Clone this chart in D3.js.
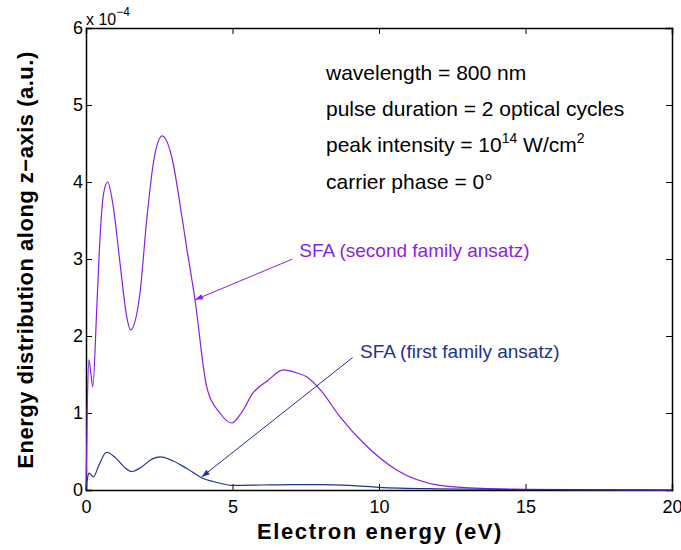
<!DOCTYPE html>
<html>
<head>
<meta charset="utf-8">
<script src="https://cdn.jsdelivr.net/npm/d3@7"></script>
<style>
  body { margin: 0; background: #fff; }
  svg text { font-family: "Liberation Sans", Arial, Helvetica, sans-serif; }
</style>
</head>
<body>
<svg id="chart"></svg>
<script>
// values in units of 1e-4
const secondEnergy = [0, 0.05, 0.1, 0.17, 0.23, 0.37, 0.48, 0.6, 0.74, 0.93, 1.16, 1.39, 1.52, 1.84, 2.07, 2.3, 2.6, 2.97, 3.2, 3.43, 3.72, 4.12, 4.57, 4.97, 5.3, 5.7, 6.2, 6.73, 7.2, 7.53, 8.0, 8.67, 9.47, 10.6, 12.08, 13.5, 15, 17.5, 20];
const secondValues = [0, 1.2, 1.69, 1.5, 1.34, 2.38, 3.29, 3.85, 4.0, 3.68, 2.95, 2.25, 2.08, 2.55, 3.5, 4.25, 4.6, 4.25, 3.73, 3.16, 2.47, 1.34, 1.0, 0.87, 1.0, 1.26, 1.42, 1.56, 1.52, 1.47, 1.3, 0.95, 0.61, 0.26, 0.06, 0.02, 0.01, 0.003, 0];

const firstEnergy = [0, 0.05, 0.1, 0.25, 0.45, 0.7, 1.0, 1.3, 1.56, 1.9, 2.2, 2.53, 2.9, 3.44, 4.0, 4.34, 5.0, 6.0, 7.0, 8.0, 9.0, 10, 12, 15, 20];
const firstValues = [0, 0.15, 0.22, 0.17, 0.33, 0.49, 0.42, 0.3, 0.24, 0.3, 0.39, 0.43, 0.39, 0.28, 0.15, 0.11, 0.06, 0.065, 0.07, 0.07, 0.06, 0.035, 0.015, 0.005, 0];

const xTicks = [0, 5, 10, 15, 20];
const yTicks = [0, 1, 2, 3, 4, 5, 6];
const infoLines = ["wavelength = 800 nm", "pulse duration = 2 optical cycles", "peak intensity = 10|14| W/cm|2", "carrier phase = 0°"];

const width = 681, height = 550;
const margin = {top: 28, right: 9, bottom: 60, left: 86};
const w = width - margin.left - margin.right;
const h = height - margin.top - margin.bottom;

const purple = "#8a1ee6";
const navy = "#1f3391";

const svg = d3.select("#chart")
    .attr("width", width)
    .attr("height", height);

const g = svg.append("g")
    .attr("transform", "translate(" + margin.left + "," + margin.top + ")");

const x = d3.scaleLinear().domain([0, 20]).range([0, w]);
const y = d3.scaleLinear().domain([0, 6]).range([h, 0]);

// axes, ticks pointing inward (matlab box)
const xAxis = g.append("g")
    .attr("transform", "translate(0," + h + ")")
    .call(d3.axisBottom(x).tickValues(xTicks).tickSize(-6).tickFormat(d3.format("d")));
const xTop = g.append("g")
    .call(d3.axisTop(x).tickValues(xTicks).tickSize(-6).tickFormat(""));
const yAxis = g.append("g")
    .call(d3.axisLeft(y).tickValues(yTicks).tickSize(-6).tickPadding(3).tickFormat(d3.format("d")));
const yRight = g.append("g")
    .attr("transform", "translate(" + w + ",0)")
    .call(d3.axisRight(y).tickValues(yTicks).tickSize(-6).tickFormat(""));

[xAxis, xTop, yAxis, yRight].forEach(a => {
    a.selectAll("path.domain").attr("stroke", "#000").attr("stroke-width", 1.5);
    a.selectAll(".tick line").attr("stroke", "#000").attr("stroke-width", 1);
    a.selectAll(".tick text").attr("font-size", "18px").attr("fill", "#000");
});
xAxis.selectAll(".tick text").attr("y", 23).attr("dy", 0);

// exponent label
const expo = g.append("text")
    .attr("x", 0)
    .attr("y", -3)
    .attr("font-size", "16px")
    .text("x 10");
expo.append("tspan")
    .attr("font-size", "12px")
    .attr("dy", "-9")
    .text("−4");

const line = d3.line()
    .x(d => x(d[0]))
    .y(d => y(d[1]))
    .curve(d3.curveMonotoneX);

g.append("path")
    .datum(secondEnergy.map((e, i) => [e, secondValues[i]]))
    .attr("fill", "none")
    .attr("stroke", purple)
    .attr("stroke-width", 1.2)
    .attr("d", line);

g.append("path")
    .datum(firstEnergy.map((e, i) => [e, firstValues[i]]))
    .attr("fill", "none")
    .attr("stroke", navy)
    .attr("stroke-width", 1.2)
    .attr("d", line);

// arrow heads
const defs = svg.append("defs");
[["arrowPurple", purple], ["arrowNavy", navy]].forEach(([id, c]) => {
    defs.append("marker")
        .attr("id", id)
        .attr("viewBox", "0 0 10 10")
        .attr("refX", 10).attr("refY", 5)
        .attr("markerWidth", 10).attr("markerHeight", 8)
        .attr("markerUnits", "userSpaceOnUse")
        .attr("orient", "auto")
        .append("path")
        .attr("d", "M0,1.5 L10,5 L0,8.5 Z")
        .attr("fill", c);
});

// annotations (data coords)
const notes = [
    {text: "SFA (second family ansatz)", color: purple, tx: 7.28, ty: 3.02, from: [7.05, 3.0], to: [3.72, 2.47], marker: "arrowPurple"},
    {text: "SFA (first family ansatz)", color: navy, tx: 9.35, ty: 1.72, from: [9.1, 1.72], to: [3.95, 0.17], marker: "arrowNavy"}
];

notes.forEach(n => {
    g.append("line")
        .attr("x1", x(n.from[0])).attr("y1", y(n.from[1]))
        .attr("x2", x(n.to[0])).attr("y2", y(n.to[1]))
        .attr("stroke", n.color)
        .attr("stroke-width", 1)
        .attr("marker-end", "url(#" + n.marker + ")");
    g.append("text")
        .attr("x", x(n.tx))
        .attr("y", y(n.ty))
        .attr("fill", n.color)
        .attr("font-size", "19px")
        .text(n.text);
});

// info text block
const infoY = [80, 116, 152, 189];
infoLines.forEach((s, i) => {
    const t = svg.append("text")
        .attr("x", 326)
        .attr("y", infoY[i])
        .attr("font-size", "21px")
        .attr("fill", "#000");
    s.split("|").forEach((part, j) => {
        const sp = t.append("tspan").text(part);
        if (j % 2 === 1) sp.attr("font-size", "14px").attr("dy", "-9");
        else if (j > 0) sp.attr("dy", "9");
    });
});

// axis titles
svg.append("text")
    .attr("x", 380)
    .attr("y", 539)
    .attr("text-anchor", "middle")
    .attr("font-size", "22px")
    .attr("font-weight", "bold")
    .attr("letter-spacing", "1.6px")
    .text("Electron energy (eV)");

svg.append("text")
    .attr("transform", "translate(33," + 260 + ") rotate(-90)")
    .attr("text-anchor", "middle")
    .attr("font-size", "22px")
    .attr("font-weight", "bold")
    .attr("letter-spacing", "0.5px")
    .text("Energy distribution along z−axis (a.u.)");
</script>
</body>
</html>
